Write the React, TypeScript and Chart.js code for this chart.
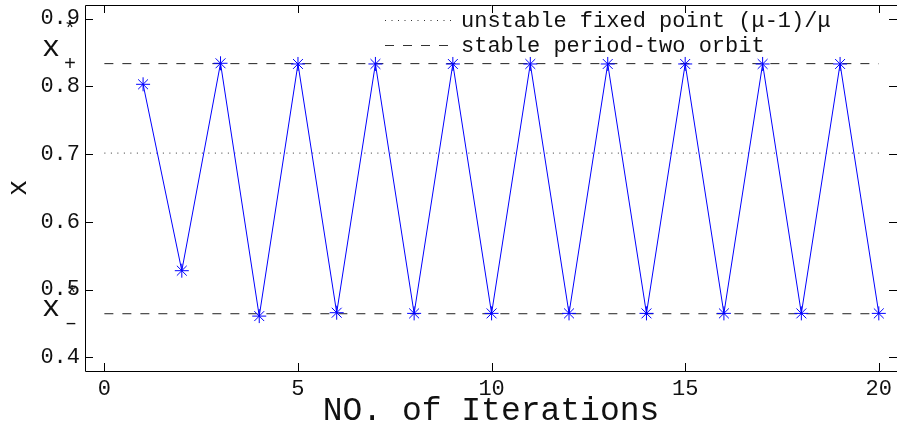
import React, { useEffect, useRef } from "react";
import { Chart, registerables } from "chart.js";

Chart.register(...registerables);

const iterations = [1, 2, 3, 4, 5, 6, 7, 8, 9, 10, 11, 12, 13, 14, 15, 16, 17, 18, 19, 20];
const xValues = [0.803, 0.528, 0.834, 0.461, 0.833, 0.466, 0.833, 0.465, 0.833, 0.465, 0.833, 0.465, 0.833, 0.465, 0.833, 0.465, 0.833, 0.465, 0.833, 0.465];
const fixedPoint = 0.7015;
const orbitHigh = 0.8335;
const orbitLow = 0.4645;
const refRange = [0, 20];
const xTicks = [0, 5, 10, 15, 20];
const yTicks = [0.4, 0.5, 0.6, 0.7, 0.8, 0.9];
const legendLabels = ["unstable fixed point (\u03bc-1)/\u03bc", "stable period-two orbit"];
const xTitle = "NO. of Iterations";
const yTitle = "x";

const MONO = '"Liberation Mono", "Courier New", monospace';

const matlabPlugin = {
  id: "matlabDecor",
  afterDraw(chart: any) {
    const { ctx, chartArea, scales } = chart;
    const { left, right, top, bottom } = chartArea;
    const xs = scales.x;
    const ys = scales.y;
    ctx.save();
    ctx.strokeStyle = "#000";
    ctx.lineWidth = 1;
    // box
    ctx.beginPath();
    ctx.moveTo(left + 0.5, top + 0.5);
    ctx.lineTo(right + 0.5, top + 0.5);
    ctx.lineTo(right + 0.5, bottom + 0.5);
    ctx.lineTo(left + 0.5, bottom + 0.5);
    ctx.closePath();
    ctx.stroke();
    // ticks
    const tl = 8;
    ctx.beginPath();
    xTicks.forEach((v) => {
      const px = Math.round(xs.getPixelForValue(v)) + 0.5;
      ctx.moveTo(px, bottom);
      ctx.lineTo(px, bottom - tl);
      ctx.moveTo(px, top);
      ctx.lineTo(px, top + tl);
    });
    yTicks.forEach((v) => {
      const py = Math.round(ys.getPixelForValue(v)) + 0.5;
      ctx.moveTo(left, py);
      ctx.lineTo(left + tl, py);
      ctx.moveTo(right, py);
      ctx.lineTo(right - tl, py);
    });
    ctx.stroke();

    // x tick labels
    ctx.fillStyle = "#111";
    ctx.font = `22px ${MONO}`;
    ctx.textAlign = "center";
    ctx.textBaseline = "middle";
    xTicks.forEach((v) => {
      ctx.fillText(String(v), xs.getPixelForValue(v), bottom + 18);
    });

    // legend
    ctx.fillStyle = "#111";
    ctx.font = `22px ${MONO}`;
    ctx.textBaseline = "middle";
    ctx.textAlign = "left";
    ctx.strokeStyle = "#333";
    ctx.setLineDash([1, 5.5]);
    ctx.beginPath();
    ctx.moveTo(385, 20.5);
    ctx.lineTo(455, 20.5);
    ctx.stroke();
    ctx.setLineDash([9, 9]);
    ctx.beginPath();
    ctx.moveTo(385, 45.5);
    ctx.lineTo(455, 45.5);
    ctx.stroke();
    ctx.setLineDash([]);
    ctx.fillText(legendLabels[0], 461, 21);
    ctx.fillText(legendLabels[1], 461, 46);

    // annotations x*+ and x*-
    ctx.textBaseline = "alphabetic";
    ctx.font = `30px ${MONO}`;
    ctx.fillText("x", 42, 56);
    ctx.fillText("x", 42, 316);
    ctx.font = `20px ${MONO}`;
    ctx.textAlign = "center";
    ctx.textBaseline = "middle";
    ctx.fillText("*", 70, 30);
    ctx.fillText("+", 70, 65);
    ctx.fillText("*", 72, 295);
    ctx.fillText("\u2013", 71, 324);

    // axis titles
    ctx.font = `33px ${MONO}`;
    ctx.textAlign = "center";
    ctx.textBaseline = "alphabetic";
    ctx.fillText(xTitle, (left + right) / 2, 420);
    ctx.save();
    ctx.translate(26, (top + bottom) / 2);
    ctx.rotate(-Math.PI / 2);
    ctx.font = `27px ${MONO}`;
    ctx.fillText(yTitle, 0, 0);
    ctx.restore();
    ctx.restore();
  },
};

export default function App() {
  const ref = useRef<HTMLCanvasElement | null>(null);
  useEffect(() => {
    if (!ref.current) return;
    const seriesData = iterations.map((it, i) => ({ x: it, y: xValues[i] }));
    const chart = new Chart(ref.current, {
      type: "scatter",
      data: {
        datasets: [
          {
            label: "iterates",
            data: seriesData,
            showLine: true,
            borderColor: "#0000ff",
            backgroundColor: "#0000ff",
            borderWidth: 1,
            pointStyle: "star",
            pointRadius: 7,
            pointBorderWidth: 1,
            pointBorderColor: "#0000ff",
            order: 0,
          },
          {
            label: legendLabels[0],
            data: refRange.map((v) => ({ x: v, y: fixedPoint })),
            showLine: true,
            borderColor: "#333",
            borderWidth: 1,
            borderDash: [1, 5.5],
            pointRadius: 0,
            order: 2,
          },
          {
            label: legendLabels[1],
            data: refRange.map((v) => ({ x: v, y: orbitHigh })),
            showLine: true,
            borderColor: "#222",
            borderWidth: 1,
            borderDash: [9, 9],
            pointRadius: 0,
            order: 1,
          },
          {
            label: legendLabels[1] + " low",
            data: refRange.map((v) => ({ x: v, y: orbitLow })),
            showLine: true,
            borderColor: "#222",
            borderWidth: 1,
            borderDash: [9, 9],
            pointRadius: 0,
            order: 1,
          },
        ],
      },
      options: {
        responsive: false,
        animation: false,
        layout: { autoPadding: false, padding: { top: 5, right: 0, left: 0, bottom: 0 } },
        plugins: { legend: { display: false }, tooltip: { enabled: false } },
        scales: {
          x: {
            type: "linear",
            min: -0.5,
            max: 20.47,
            grid: { display: false, drawTicks: false },
            border: { display: false },
            afterBuildTicks: (s: any) => {
              s.ticks = xTicks.map((v) => ({ value: v }));
            },
            afterFit: (s: any) => {
              s.height = 58;
              s.paddingLeft = 0;
              s.paddingRight = 0;
            },
            ticks: { display: false },
          },
          y: {
            type: "linear",
            min: 0.38,
            max: 0.92,
            grid: { display: false, drawTicks: false },
            border: { display: false },
            afterBuildTicks: (s: any) => {
              s.ticks = yTicks.map((v) => ({ value: v }));
            },
            afterFit: (s: any) => {
              s.width = 85;
              s.paddingTop = 0;
              s.paddingBottom = 0;
            },
            ticks: {
              padding: 5,
              color: "#111",
              font: { family: MONO, size: 22 },
              callback: (v: any) => Number(v).toFixed(1),
            },
          },
        },
      },
      plugins: [matlabPlugin],
    } as any);
    return () => chart.destroy();
  }, []);
  return (
    <div style={{ position: "fixed", left: 0, top: 0, width: 897, height: 429, background: "#fff" }}>
      <canvas ref={ref} width={897} height={429} />
    </div>
  );
}
